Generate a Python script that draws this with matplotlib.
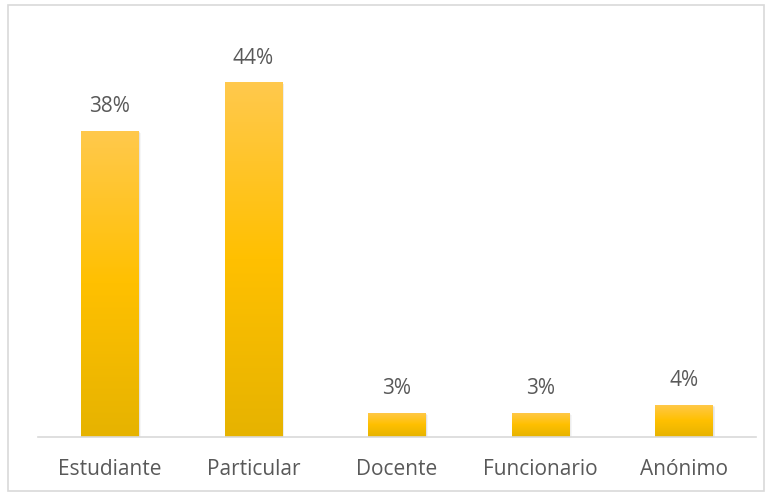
import matplotlib.pyplot as plt
import numpy as np
from matplotlib.colors import LinearSegmentedColormap
from matplotlib.patches import Rectangle

categorias = ['Estudiante', 'Particular', 'Docente', 'Funcionario', 'Anónimo']
porcentajes = [38, 44, 3, 3, 4]
etiquetas = ['38%', '44%', '3%', '3%', '4%']

plt.rcParams['font.family'] = ['Open Sans', 'DejaVu Sans']

fig = plt.figure(figsize=(7.72, 4.96), dpi=100)
# marco exterior del gráfico
fig.patches.append(Rectangle((8 / 772, 5 / 496), 756 / 772, 486 / 496,
                             transform=fig.transFigure, fill=False,
                             edgecolor='#d9d9d9', linewidth=1.2))

ax = fig.add_axes([38 / 772, 1 - 437 / 496, 718 / 772, 403 / 496])
x = np.arange(len(categorias))
ancho = 0.40

cmap = LinearSegmentedColormap.from_list('oro', ['#e6b300', '#ffc000', '#ffc94d'])
grad = np.linspace(0, 1, 256).reshape(-1, 1)

barras = ax.bar(x, porcentajes, width=ancho, color='none', zorder=2)
for b in barras:
    x0, y0 = b.get_x(), b.get_y()
    w, h = b.get_width(), b.get_height()
    # sombra suave
    for k in range(4):
        ax.add_patch(Rectangle((x0 + 0.004 * (k + 1), y0 - 0.06 * (k + 1)), w, h,
                               facecolor='#000000', alpha=0.035, edgecolor='none', zorder=1))
    im = ax.imshow(grad, cmap=cmap, extent=[x0, x0 + w, y0, y0 + h],
                   origin='lower', aspect='auto', zorder=3)
    im.set_clip_path(b)

for xi, v, t in zip(x, porcentajes, etiquetas):
    ax.text(xi, v + 2.3, t, ha='center', va='baseline', fontsize=15, color='#595959')

ax.set_xlim(-0.5, len(categorias) - 0.5)
ax.set_ylim(0, 50)
ax.set_xticks(x)
ax.set_xticklabels(categorias, fontsize=15, color='#595959')
ax.tick_params(axis='x', length=0, pad=16)
ax.set_yticks([])
for s in ['top', 'right', 'left']:
    ax.spines[s].set_visible(False)
ax.spines['bottom'].set_color('#d9d9d9')
ax.spines['bottom'].set_linewidth(1.2)
ax.spines['bottom'].set_zorder(4)

plt.savefig('out.png', dpi=100)
